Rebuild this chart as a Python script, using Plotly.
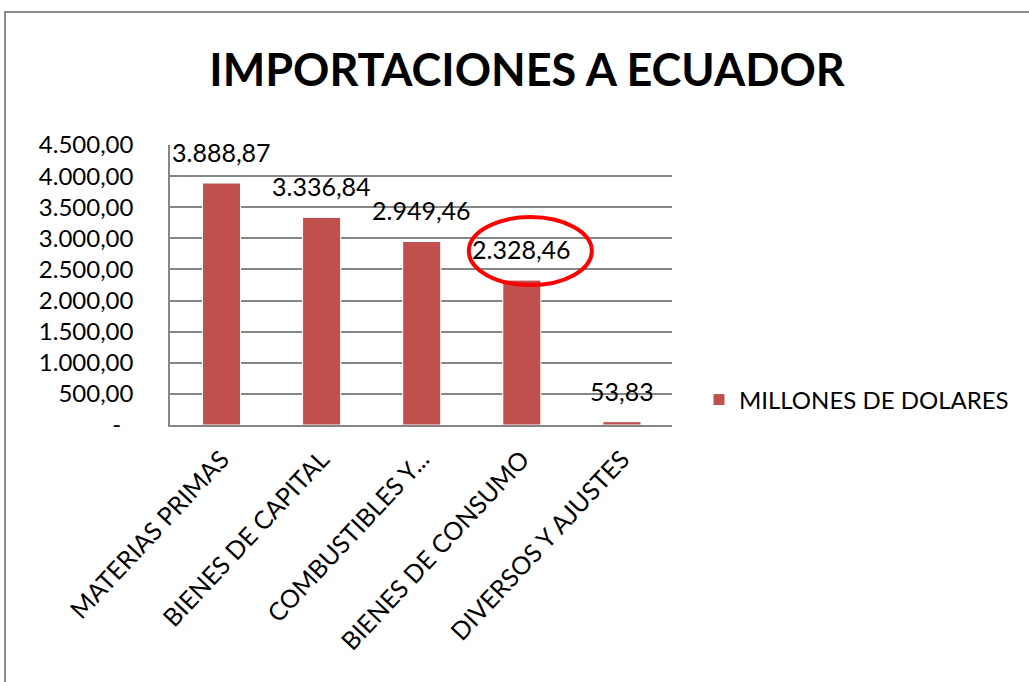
import plotly.graph_objects as go

categories = ["MATERIAS PRIMAS", "BIENES DE CAPITAL", "COMBUSTIBLES Y...", "BIENES DE CONSUMO", "DIVERSOS Y AJUSTES"]
values = [3888.87, 3336.84, 2949.46, 2328.46, 53.83]
series_name = "MILLONES DE DOLARES"
title_text = "IMPORTACIONES A ECUADOR"
tick_values = [0, 500, 1000, 1500, 2000, 2500, 3000, 3500, 4000, 4500]
highlight_index = 3

FONT = "Lato, 'Open Sans', sans-serif"
BAR_COLOR = "#C0504D"
GRID = "#868686"


def fmt(v):
    s = f"{v:,.2f}"
    return s.replace(",", "X").replace(".", ",").replace("X", ".")


tick_text = [("-" + "\u00a0" * 2) if v == 0 else fmt(v) for v in tick_values]

fig = go.Figure()
fig.add_trace(go.Bar(
    x=categories, y=values, name=series_name,
    marker=dict(color=BAR_COLOR, line=dict(color="white", width=1)),
    width=0.38, showlegend=True,
))

for c, v in zip(categories, values):
    fig.add_annotation(x=c, y=v, text=fmt(v), showarrow=False, yshift=31,
                       yanchor="middle", xanchor="center",
                       font=dict(family=FONT, size=25, color="black"))

# red ellipse highlighting one label
fig.add_shape(type="circle", xref="x", yref="y",
              xsizemode="pixel", ysizemode="pixel",
              xanchor=highlight_index, yanchor=values[highlight_index],
              x0=-53, x1=70, y0=-5, y1=63,
              line=dict(color="#FF0000", width=4))

# outer chart border
fig.add_shape(type="rect", xref="paper", yref="paper",
              x0=(5 - 170) / 502, x1=(1040 - 170) / 502,
              y0=(425 - 700) / 280, y1=(425 - 12) / 280,
              line=dict(color="#8C8C8C", width=2), layer="below")

fig.update_layout(
    width=1029, height=682,
    margin=dict(l=170, r=357, t=145, b=257),
    paper_bgcolor="white", plot_bgcolor="white",
    title=dict(text="<b>" + title_text + "</b>", x=(527 - 170) / 502, xref="paper",
               xanchor="center", y=1 - 70 / 682, yanchor="middle",
               font=dict(family=FONT, size=45, color="black")),
    legend=dict(x=(699 - 170) / 502, xanchor="left", y=(425 - 400) / 280, yanchor="middle",
                font=dict(family=FONT, size=24, color="black"),
                bgcolor="rgba(0,0,0,0)"),
    bargap=0.62,
)
fig.update_yaxes(range=[0, 4500], tickvals=tick_values, ticktext=tick_text,
                 showgrid=True, gridcolor=GRID, gridwidth=1.5,
                 showline=True, linecolor=GRID, linewidth=1.5,
                 zeroline=False, ticks="", ticklabelstandoff=30,
                 tickfont=dict(family=FONT, size=24, color="black"))
fig.update_xaxes(showline=True, linecolor=GRID, linewidth=1.5, mirror=False,
                 tickangle=-47, ticks="", ticklabelstandoff=8,
                 tickfont=dict(family=FONT, size=25, color="black"))

fig.write_html("out.html")
